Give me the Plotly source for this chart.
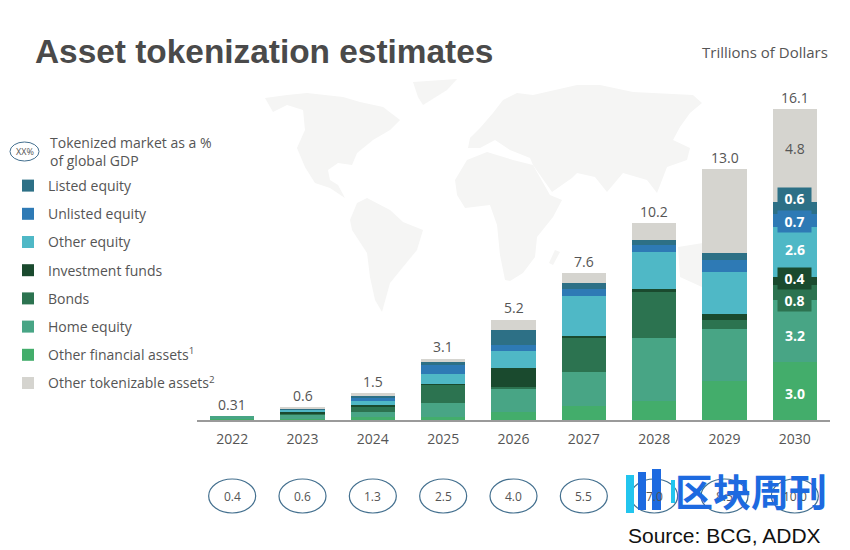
import plotly.graph_objects as go
import numpy as np

years = [2022, 2023, 2024, 2025, 2026, 2027, 2028, 2029, 2030]
total_labels = ["0.31", "0.6", "1.5", "3.1", "5.2", "7.6", "10.2", "13.0", "16.1"]
gdp_share = ["0.4", "0.6", "1.3", "2.5", "4.0", "5.5", "7.0", "8.5", "10.0"]

other_financial = [0.03, 0.05, 0.17, 0.17, 0.40, 0.74, 1.00, 2.00, 3.0]
home_equity = [0.16, 0.21, 0.26, 0.73, 1.20, 1.76, 3.25, 2.70, 3.2]
bonds = [0, 0.09, 0.26, 0.92, 0.12, 1.73, 2.40, 0.50, 0.8]
investment_funds = [0, 0.05, 0.09, 0.06, 0.95, 0.14, 0.16, 0.27, 0.4]
other_equity = [0, 0.12, 0.21, 0.52, 0.91, 2.07, 1.87, 2.20, 2.6]
unlisted_equity = [0, 0.04, 0.17, 0.43, 0.33, 0.35, 0.41, 0.62, 0.7]
listed_equity = [0, 0.05, 0.10, 0.16, 0.74, 0.30, 0.23, 0.36, 0.6]
other_tokenizable = [0, 0.05, 0.12, 0.19, 0.55, 0.52, 0.88, 4.35, 4.8]

# stacked bottom to top: name, values, colour, legend position
series = [
    ("Other financial assets<sup>1</sup>", other_financial, "#43ad6b", 7),
    ("Home equity", home_equity, "#48a585", 6),
    ("Bonds", bonds, "#2c7350", 5),
    ("Investment funds", investment_funds, "#1a4a2e", 4),
    ("Other equity", other_equity, "#4fb8c6", 3),
    ("Unlisted equity", unlisted_equity, "#2e7ab5", 2),
    ("Listed equity", listed_equity, "#2d7086", 1),
    ("Other tokenizable assets<sup>2</sup>", other_tokenizable, "#d5d4cf", 8),
]

TEXT = "#555555"
BODY = "Open Sans"

# the page body adds 8px around the figure, so size and positions allow for it
PAGE_W, PAGE_H, BODY_GAP = 842, 542, 8
L, R, T, B = 197, 830, 90, 420


def px(x):
    return (x - BODY_GAP) / PAGE_W


def py(y):
    return 1 - (y - BODY_GAP) / PAGE_H


def path(points):
    return "M" + "L".join(f"{px(x):.4f},{py(y):.4f}" for x, y in points) + "Z"


def note(x, y, text, size=14, color=TEXT, family=BODY, xanchor="center", **kw):
    return dict(x=px(x), y=py(y), xref="paper", yref="paper", text=text, showarrow=False,
                xanchor=xanchor, yanchor="middle",
                font=dict(family=family, size=size, color=color), **kw)


world_map = [
    [(265, 98), (287, 95), (307, 93), (343, 97), (360, 102), (383, 107), (400, 120), (390, 130),
     (373, 140), (357, 153), (352, 165), (338, 163), (328, 170), (330, 180), (338, 185), (345, 198),
     (330, 188), (315, 183), (305, 167), (297, 148), (305, 130), (303, 110), (287, 105), (273, 112)],
    [(413, 82), (457, 79), (447, 90), (423, 105), (418, 97)],
    [(357, 203), (367, 198), (390, 210), (403, 222), (423, 230), (417, 250), (403, 267), (390, 283),
     (382, 312), (375, 300), (370, 277), (367, 253), (352, 230), (350, 220)],
    [(455, 180), (467, 160), (487, 152), (513, 160), (533, 165), (550, 195), (562, 200), (553, 217),
     (537, 237), (535, 257), (523, 273), (510, 281), (505, 280), (500, 255), (497, 225), (490, 205),
     (465, 208), (457, 195)],
    [(468, 148), (470, 138), (480, 128), (493, 113), (503, 100), (517, 93), (533, 95), (577, 85),
     (600, 85), (633, 92), (693, 95), (702, 103), (690, 113), (680, 127), (673, 140), (690, 148),
     (687, 160), (667, 167), (657, 193), (647, 180), (623, 173), (607, 192), (595, 177), (577, 173),
     (572, 178), (552, 192), (533, 165), (530, 158), (510, 150), (495, 140), (480, 148)],
    [(555, 250), (560, 252), (553, 265), (549, 263)],
    [(678, 247), (703, 243), (702, 287), (680, 277)],
]

fig = go.Figure()

for name, values, color, rank in series:
    fig.add_trace(go.Bar(
        x=years,
        y=values,
        name=name,
        width=0.626,
        marker=dict(color=color, line=dict(width=0)),
        legendgroup=name,
        legendrank=rank,
    ))

shapes = [
    dict(type="path", path=path(p), xref="paper", yref="paper", layer="below",
         fillcolor="#f5f5f4", line=dict(width=0))
    for p in world_map
]

annotations = []

# totals above each stack
tops = np.sum([s[1] for s in series], axis=0)
for year, top, label in zip(years, tops, total_labels):
    annotations.append(dict(x=year, y=top, yshift=12, text=label, showarrow=False,
                            xanchor="center", yanchor="middle",
                            font=dict(family=BODY, size=14, color=TEXT)))

# GDP share row
half_w = 23.5 / ((R - L) / 9)
for year, share in zip(years, gdp_share):
    shapes.append(dict(type="circle", xref="x", yref="paper",
                       x0=year - half_w, x1=year + half_w, y0=py(513), y1=py(479),
                       line=dict(color="#44708f", width=1.2)))
    annotations.append(dict(x=year, y=py(496), xref="x", yref="paper", text=share, showarrow=False,
                            xanchor="center", yanchor="middle",
                            font=dict(family=BODY, size=12, color=TEXT)))

# labels of the 2030 stack; some backgrounds spill past their own band
cum = np.cumsum([s[1] for s in series], axis=0)[:, -1]
mids = cum - np.array([s[1][-1] for s in series]) / 2
shifts = [-2, -4, -8, 3, 3, -1, 9, 7]
boxed = [False, False, True, True, False, True, True, False]
for (name, values, color, rank), mid, shift, box in zip(series, mids, shifts, boxed):
    dark = rank == 8
    annotations.append(dict(
        x=2030, y=mid, yshift=shift, text=f"<b>{values[-1]:.1f}</b>" if not dark else f"{values[-1]:.1f}",
        showarrow=False, xanchor="center", yanchor="middle",
        font=dict(family=BODY, size=14, color=TEXT if dark else "white"),
        bgcolor=color if box else None,
        width=31 if box else None,
        height=19 if box else None,
    ))

# legend header with its sample ellipse
shapes.append(dict(type="circle", xref="paper", yref="paper", x0=px(10), x1=px(39), y0=py(161), y1=py(142),
                   line=dict(color="#44708f", width=1)))
annotations += [
    note(24.5, 151.5, "XX%", size=9),
    note(48, 152, "Tokenized market as a %<br>of global GDP", xanchor="left", align="left"),
    note(830, 52, "Trillions of Dollars", size=15, xanchor="right"),
    note(33, 51, "<b>Asset tokenization estimates</b>", size=33.4, color="#4a4a4a",
         family="Liberation Sans", xanchor="left"),
    note(823, 535, "Source: BCG, ADDX", size=21, color="#111111", family="Liberation Sans", xanchor="right"),
    note(751, 490, "<b>区块周刊</b>", size=38, color="#1d6ae0", family="Noto Sans CJK SC"),
]

# watermark logo strokes
for x0, x1, y0, y1, color in [
    (626, 634, 475, 513, "#22c5ee"),
    (638, 646, 472, 510, "#1d6ae0"),
    (652, 661, 469, 510, "#1d6ae0"),
    (671, 675, 480, 503, "#22c5ee"),
]:
    shapes.append(dict(type="rect", xref="paper", yref="paper", x0=px(x0), x1=px(x1), y0=py(y1), y1=py(y0),
                       fillcolor=color, line=dict(width=0)))

fig.update_layout(
    barmode="stack",
    width=PAGE_W,
    height=PAGE_H,
    autosize=False,
    margin=dict(l=0, r=0, t=0, b=0),
    paper_bgcolor="white",
    plot_bgcolor="rgba(0,0,0,0)",
    font=dict(family=BODY, size=14, color=TEXT),
    xaxis=dict(
        domain=[px(L), px(R)],
        range=[2021.5, 2030.5],
        tickvals=years,
        showgrid=False,
        zeroline=False,
        showline=True,
        linecolor="#9a9a9a",
        linewidth=2,
        ticks="",
        ticklabelstandoff=5,
        tickfont=dict(family=BODY, size=14, color=TEXT),
    ),
    yaxis=dict(domain=[py(B), py(T)], range=[0, 17.1], visible=False),
    legend=dict(
        x=0,
        y=py(170),
        xanchor="left",
        yanchor="top",
        traceorder="grouped",
        tracegroupgap=7,
        bgcolor="rgba(0,0,0,0)",
        font=dict(family=BODY, size=14, color=TEXT),
    ),
    shapes=shapes,
    annotations=annotations,
)

fig.write_html("out.html")
